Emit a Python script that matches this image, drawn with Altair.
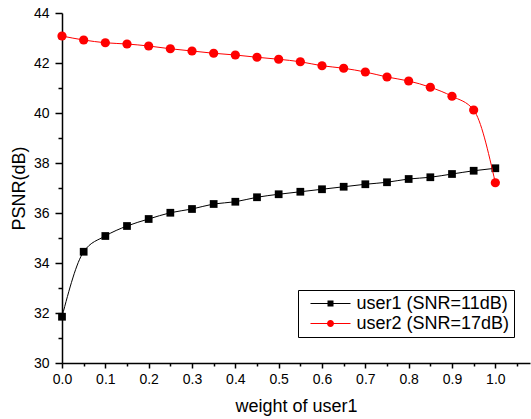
import altair as alt
import pandas as pd

# ---- data ----
weights = [0.0, 0.05, 0.1, 0.15, 0.2, 0.25, 0.3, 0.35, 0.4, 0.45, 0.5,
           0.55, 0.6, 0.65, 0.7, 0.75, 0.8, 0.85, 0.9, 0.95, 1.0]
user1_psnr = [31.85, 34.45, 35.08, 35.48, 35.76, 36.01, 36.16, 36.36, 36.45, 36.63, 36.75,
              36.85, 36.95, 37.05, 37.15, 37.23, 37.36, 37.43, 37.56, 37.69, 37.79]
user2_psnr = [43.08, 42.92, 42.81, 42.76, 42.68, 42.57, 42.48, 42.39, 42.32, 42.23, 42.15,
              42.05, 41.89, 41.79, 41.64, 41.44, 41.28, 41.03, 40.67, 40.12, 37.21]
series_names = ["user1 (SNR=11dB)", "user2 (SNR=17dB)"]
series_colors = ["#000000", "#ff0000"]
x_ticks = [0.0, 0.05, 0.1, 0.15, 0.2, 0.25, 0.3, 0.35, 0.4, 0.45, 0.5,
           0.55, 0.6, 0.65, 0.7, 0.75, 0.8, 0.85, 0.9, 0.95, 1.0, 1.05]
y_ticks = [30, 31, 32, 33, 34, 35, 36, 37, 38, 39, 40, 41, 42, 43, 44]

rows = []
for w, v in zip(weights, user1_psnr):
    rows.append({"weight": w, "psnr": v, "series": series_names[0]})
for w, v in zip(weights, user2_psnr):
    rows.append({"weight": w, "psnr": v, "series": series_names[1]})
df = pd.DataFrame(rows)

FONT = "Liberation Sans"

x_major = "abs(datum.value*10 - round(datum.value*10)) < 0.001"
x_axis = alt.Axis(
    values=x_ticks, grid=False, title="weight of user1",
    labelExpr=f"{x_major} ? format(datum.value, '.1f') : ''",
    labelOverlap=False, labelFlush=False,
    tickSize={"condition": {"test": x_major, "value": 5}, "value": 3},
    labelPadding=4,
    domainColor="black", domainWidth=1.5, tickColor="black", tickWidth=1.5,
    labelFont=FONT, labelFontSize=14, labelColor="black",
    titleFont=FONT, titleFontSize=18, titleFontWeight="normal", titleColor="black",
    titleX=234, titleY=43, titleBaseline="middle", titleAlign="center",
)
y_major = "datum.value % 2 === 0"
y_axis = alt.Axis(
    values=y_ticks, grid=False, title="PSNR(dB)",
    labelExpr=f"{y_major} ? datum.label : ''",
    labelOverlap=False, labelFlush=False,
    tickSize={"condition": {"test": y_major, "value": 7}, "value": 4},
    labelPadding=6,
    domainColor="black", domainWidth=1.5, tickColor="black", tickWidth=1.5,
    labelFont=FONT, labelFontSize=14, labelColor="black",
    titleFont=FONT, titleFontSize=18, titleFontWeight="normal", titleColor="black",
    titleX=-42.5, titleY=175, titleBaseline="middle", titleAlign="center", titleAngle=-90,
)

X = alt.X("weight:Q", scale=alt.Scale(domain=[0, 1.08], nice=False, zero=False), axis=x_axis)
Y = alt.Y("psnr:Q", scale=alt.Scale(domain=[30, 44], nice=False, zero=False), axis=y_axis)
color_scale = alt.Scale(domain=series_names, range=series_colors)

base = alt.Chart(df)


def series_layers(name, col, shape, size):
    sub = base.transform_filter(alt.datum.series == name)
    ln = sub.mark_line(strokeWidth=1, interpolate="monotone", color=col).encode(x=X, y=Y)
    pt = sub.mark_point(shape=shape, filled=True, size=size, opacity=1, color=col).encode(x=X, y=Y)
    return [ln, pt]


layers = series_layers(series_names[0], series_colors[0], "square", 60) + \
         series_layers(series_names[1], series_colors[1], "circle", 85)

legend_paths = [
    "M-0.2,-0.1H7.8V0.1H-0.2Z M3.2,-0.6H4.4V0.6H3.2Z",
    "M-0.2,-0.1H7.8V0.1H-0.2Z M4.5,0A0.7,0.7,0,1,1,3.1,0A0.7,0.7,0,1,1,4.5,0Z",
]
legend_props = dict(
    orient="none", legendX=236, legendY=277, title=None,
    strokeColor="black", fillColor="white", padding=4.5,
    labelFont=FONT, labelFontSize=18, labelColor="black", labelOffset=36,
    labelExpr="datum.label + '\u00a0'",
    symbolSize=100, rowPadding=2, symbolOpacity=1, symbolStrokeWidth=0,
)
legend_layer = base.mark_point(filled=True, size=0).encode(
    x=X, y=Y,
    color=alt.Color("series:N", scale=color_scale, legend=alt.Legend(**legend_props)),
    shape=alt.Shape("series:N", scale=alt.Scale(domain=series_names, range=legend_paths),
                    legend=alt.Legend(**legend_props)),
)

chart = alt.layer(*layers, legend_layer).properties(
    width=468, height=350,
    padding={"left": 62, "top": 13, "right": 1, "bottom": 56},
    autosize=alt.AutoSizeParams(type="none"),
    background="white",
).configure_view(stroke=None)

chart.save("out.html", embed_options={"renderer": "svg", "actions": False})
